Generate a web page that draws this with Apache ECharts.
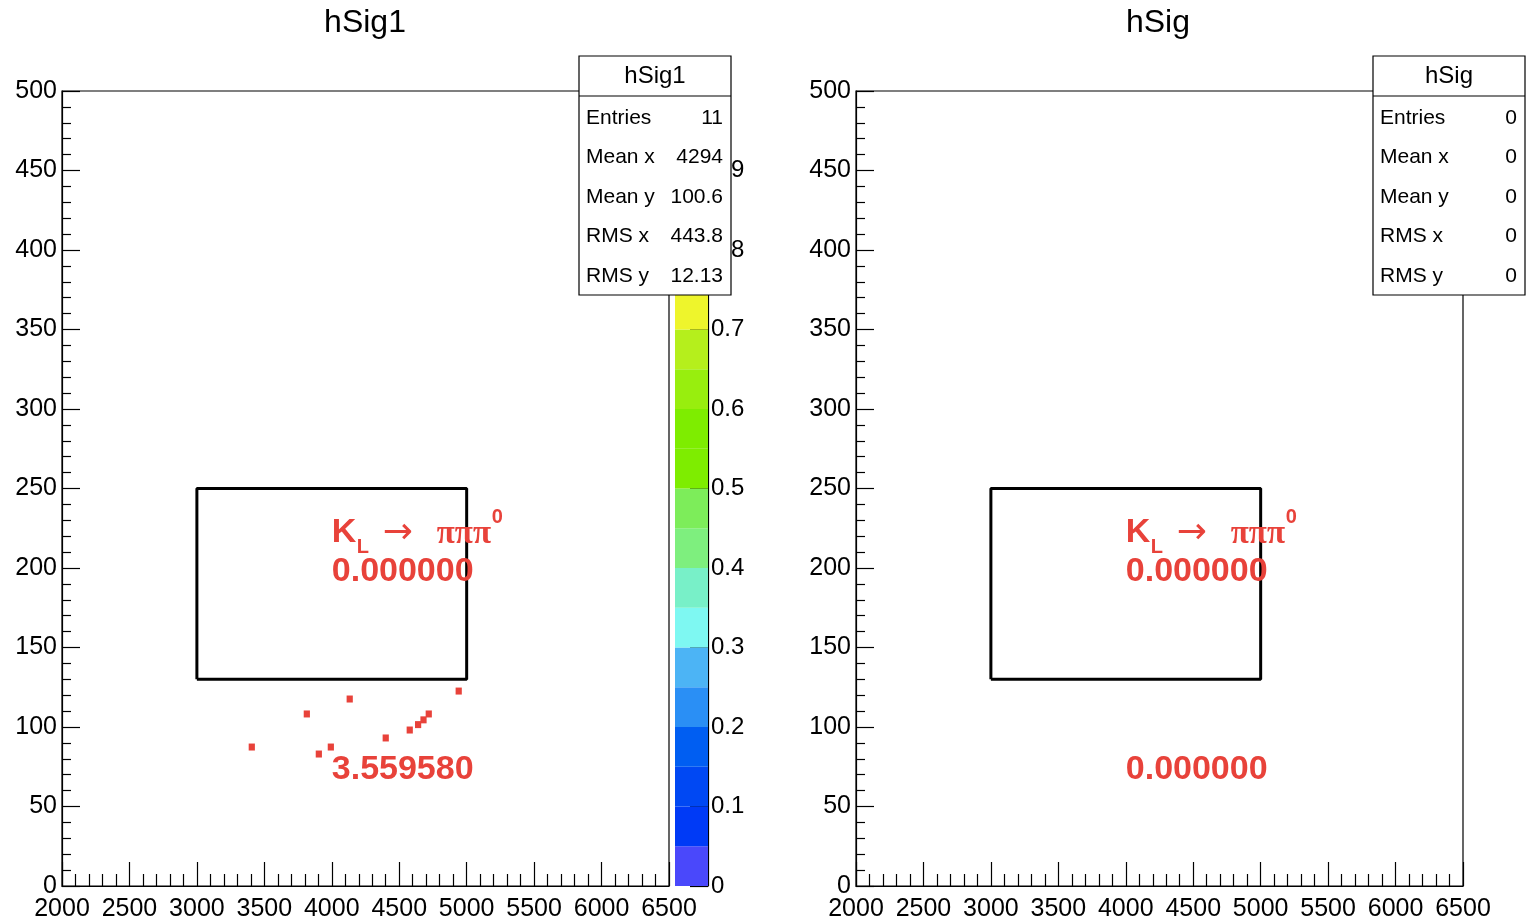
<!DOCTYPE html>
<html><head><meta charset="utf-8">
<script src="https://cdn.jsdelivr.net/npm/echarts@6/dist/echarts.min.js"></script>
<style>html,body{margin:0;padding:0;background:#fff}#c{width:1526px;height:922px}</style>
</head><body><div id="c"></div>
<script>
// ---- data ----
const panelTitles = ['hSig1', 'hSig'];
const statsLabels = ['Entries', 'Mean x', 'Mean y', 'RMS x', 'RMS y'];
const statsLeft = ['11', '4294', '100.6', '443.8', '12.13'];
const statsRight = ['0', '0', '0', '0', '0'];
const xRange = [2000, 6500];
const yRange = [0, 500];
const zRange = [0, 1];
// filled bins of hSig1 (bin centres)
const binsLeft = [
  [3407, 87.4], [3815, 108.2], [4133, 117.6], [3904, 83.0], [3993, 87.4],
  [4400, 93.1], [4578, 98.1], [4640, 101.5], [4680, 104.5], [4719, 108.2], [4941, 122.6]
];
const binsRight = [];
const binSize = [46, 4.4];
const cutBox = [[3000, 130], [5000, 130], [5000, 250], [3000, 250], [3000, 130]];
const paletteLevels = [0, 0.05, 0.1, 0.15, 0.2, 0.25, 0.3, 0.35, 0.4, 0.45, 0.5,
  0.55, 0.6, 0.65, 0.7, 0.75, 0.8, 0.85, 0.9, 0.95, 1.0];
const paletteColors = ['#4a48fb', '#003af6', '#0048f3', '#005ef2', '#2a8ff5', '#4cb4f5',
  '#7ef8f2', '#78f0c8', '#7eef7e', '#7ded5a', '#7eed00', '#7eed00', '#98ee0e', '#b5ef1c',
  '#eef52c', '#f5d020', '#f5a020', '#f07020', '#ec4a20', '#e83a30'];
const annotAnchors = [[4000, 222], [4000, 197.5], [4000, 73]];
const annotLeft = ['0.000000', '3.559580'];
const annotRight = ['0.000000', '0.000000'];

// ---- styling ----
const RED = '#e8423a';
const FONT = 'Liberation Sans';
const chart = echarts.init(document.getElementById('c'));
const plainNum = v => String(Math.round(v * 1000) / 1000);

function xAxisCfg(gi) {
  return {
    gridIndex: gi, type: 'value', min: xRange[0], max: xRange[1], interval: 500,
    axisLine: { show: true, onZero: false, lineStyle: { color: '#000', width: 1.2 } },
    axisTick: { show: true, inside: true, length: 24, lineStyle: { color: '#000', width: 1.2 } },
    minorTick: { show: true, splitNumber: 5, length: 12, lineStyle: { color: '#000', width: 1.2 } },
    axisLabel: { show: true, color: '#000', fontSize: 25, fontFamily: FONT, margin: 11, formatter: plainNum },
    splitLine: { show: false }
  };
}
function yAxisCfg(gi) {
  return {
    gridIndex: gi, type: 'value', min: yRange[0], max: yRange[1], interval: 50,
    axisLine: { show: true, onZero: false, lineStyle: { color: '#000', width: 1.2 } },
    axisTick: { show: true, inside: true, length: 18, lineStyle: { color: '#000', width: 1.2 } },
    minorTick: { show: true, splitNumber: 5, length: 9, lineStyle: { color: '#000', width: 1.2 } },
    axisLabel: { show: true, color: '#000', fontSize: 25, fontFamily: FONT, margin: 5, formatter: plainNum },
    splitLine: { show: false }
  };
}

function binSeries(ai, bins) {
  return {
    type: 'custom', xAxisIndex: ai, yAxisIndex: ai, data: bins, z: 3,
    renderItem: function (params, api) {
      const x = api.value(0), y = api.value(1);
      const p0 = api.coord([x - binSize[0] / 2, y + binSize[1] / 2]);
      const p1 = api.coord([x + binSize[0] / 2, y - binSize[1] / 2]);
      return { type: 'rect', shape: { x: p0[0], y: p0[1], width: p1[0] - p0[0], height: p1[1] - p0[1] },
        style: { fill: RED } };
    }
  };
}
function boxSeries(ai) {
  return {
    type: 'line', xAxisIndex: ai, yAxisIndex: ai, data: cutBox, symbol: 'none', z: 4,
    lineStyle: { color: '#000', width: 3 }, silent: true, animation: false
  };
}
function annotSeries(ai, vals) {
  return {
    type: 'custom', xAxisIndex: ai, yAxisIndex: ai, z: 5,
    data: annotAnchors.map((a, i) => [a[0], a[1], i]),
    renderItem: function (params, api) {
      const p = api.coord([api.value(0), api.value(1)]);
      const idx = api.value(2);
      if (idx === 0) {
        return { type: 'group', children: [
          { type: 'text', x: p[0], y: p[1], style: { text: 'K', fill: RED, font: 'bold 34px ' + FONT, align: 'left', verticalAlign: 'middle' } },
          { type: 'text', x: p[0] + 25, y: p[1] + 14, style: { text: 'L', fill: RED, font: 'bold 20px ' + FONT, align: 'left', verticalAlign: 'middle' } },
          { type: 'text', x: p[0] + 51, y: p[1] + 1, style: { text: '\u2192', fill: RED, font: 'normal 36px DejaVu Sans', align: 'left', verticalAlign: 'middle' } },
          { type: 'text', x: p[0] + 105, y: p[1] + 1, style: { text: '\u03c0\u03c0\u03c0', fill: RED, font: 'bold 33px Liberation Serif', align: 'left', verticalAlign: 'middle' } },
          { type: 'text', x: p[0] + 160, y: p[1] - 16, style: { text: '0', fill: RED, font: 'bold 20px ' + FONT, align: 'left', verticalAlign: 'middle' } }
        ] };
      }
      return { type: 'text', x: p[0], y: p[1], style: { text: vals[idx - 1], fill: RED, font: 'bold 34px ' + FONT, align: 'left', verticalAlign: 'middle' } };
    }
  };
}

function statsBox(x, title, values) {
  const w = 152, top = 56, h = 239;
  const children = [
    { type: 'rect', z: 100, shape: { x: x, y: top, width: w, height: h }, style: { fill: '#fff', stroke: '#000', lineWidth: 1.2 } },
    { type: 'line', z: 101, shape: { x1: x, y1: 96, x2: x + w, y2: 96 }, style: { stroke: '#000', lineWidth: 1.2 } },
    { type: 'text', z: 101, x: x + w / 2, y: 76, style: { text: title, fill: '#000', font: 'normal 24px ' + FONT, align: 'center', verticalAlign: 'middle' } }
  ];
  const rows = [118, 157, 197, 236, 276];
  statsLabels.forEach((lab, i) => {
    children.push({ type: 'text', z: 101, x: x + 7, y: rows[i], style: { text: lab, fill: '#000', font: 'normal 21px ' + FONT, align: 'left', verticalAlign: 'middle' } });
    children.push({ type: 'text', z: 101, x: x + w - 8, y: rows[i], style: { text: values[i], fill: '#000', font: 'normal 21px ' + FONT, align: 'right', verticalAlign: 'middle' } });
  });
  return { type: 'group', z: 100, zlevel: 1, children: children };
}

const option = {
  backgroundColor: '#fff',
  animation: false,
  grid: [
    { left: 62, top: 91, width: 607, height: 795, show: true, borderColor: '#000', borderWidth: 1.2, backgroundColor: 'transparent' },
    { left: 856, top: 91, width: 607, height: 795, show: true, borderColor: '#000', borderWidth: 1.2, backgroundColor: 'transparent' },
    { left: 675, top: 91, width: 33, height: 795 }
  ],
  xAxis: [
    xAxisCfg(0), xAxisCfg(1),
    { gridIndex: 2, type: 'value', min: 0, max: 1, show: false }
  ],
  yAxis: [
    yAxisCfg(0), yAxisCfg(1),
    { gridIndex: 2, type: 'value', min: zRange[0], max: zRange[1], interval: 0.1, position: 'right',
      axisLine: { show: true, onZero: false, lineStyle: { color: '#000', width: 1.2 } },
      axisTick: { show: true, inside: true, length: 18, lineStyle: { color: '#000', width: 1.2 } },
      axisLabel: { show: true, color: '#000', fontSize: 24, fontFamily: FONT, margin: 3, formatter: plainNum },
      splitLine: { show: false } }
  ],
  series: [
    {
      type: 'custom', xAxisIndex: 2, yAxisIndex: 2, z: 1,
      data: paletteColors.map((c, i) => [paletteLevels[i], paletteLevels[i + 1], i]),
      renderItem: function (params, api) {
        const lo = api.value(0), hi = api.value(1), i = api.value(2);
        const p0 = api.coord([0, hi]), p1 = api.coord([1, lo]);
        return { type: 'rect', shape: { x: p0[0], y: p0[1], width: p1[0] - p0[0], height: p1[1] - p0[1] },
          style: { fill: paletteColors[i] } };
      }
    },
    binSeries(0, binsLeft), boxSeries(0), annotSeries(0, annotLeft),
    binSeries(1, binsRight), boxSeries(1), annotSeries(1, annotRight)
  ],
  graphic: [
    { type: 'text', x: 365, y: 23, z: 100, style: { text: panelTitles[0], fill: '#000', font: 'normal 32px ' + FONT, align: 'center', verticalAlign: 'middle' } },
    { type: 'text', x: 1158, y: 23, z: 100, style: { text: panelTitles[1], fill: '#000', font: 'normal 32px ' + FONT, align: 'center', verticalAlign: 'middle' } },
    statsBox(579, panelTitles[0], statsLeft),
    statsBox(1373, panelTitles[1], statsRight)
  ]
};
chart.setOption(option);
</script></body></html>
